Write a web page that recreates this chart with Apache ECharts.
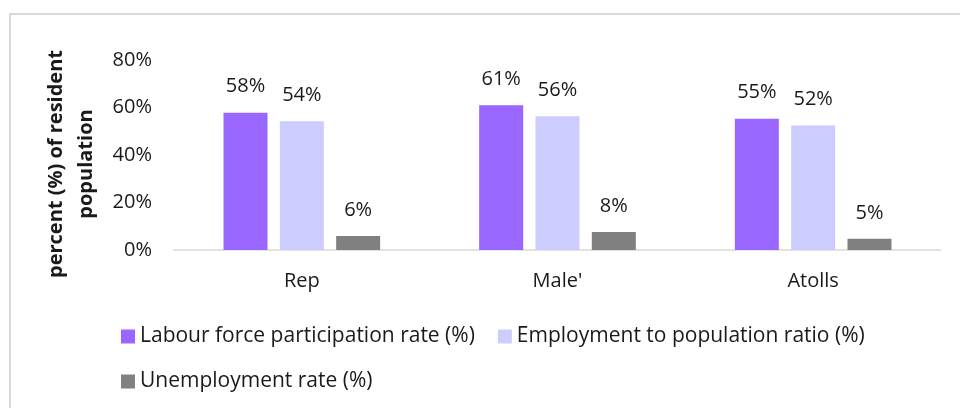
<!DOCTYPE html>
<html>
<head>
<meta charset="utf-8">
<script src="https://cdn.jsdelivr.net/npm/echarts@6/dist/echarts.min.js"></script>
<style>
  html, body { margin: 0; padding: 0; background: #fff; }
  #chart { width: 960px; height: 408px; }
</style>
</head>
<body>
<div id="chart"></div>
<script>
  var categories = ["Rep", "Male'", "Atolls"];
  var labourForce = [57.8, 61.0, 55.3];
  var employmentRatio = [54.2, 56.3, 52.4];
  var unemployment = [5.9, 7.6, 4.7];
  var seriesNames = [
    "Labour force participation rate (%)",
    "Employment to population ratio (%)",
    "Unemployment rate (%)"
  ];
  var yTicks = [0, 20, 40, 60, 80];

  var font = "'Open Sans', sans-serif";
  var textColor = "#1a1a1a";

  var chart = echarts.init(document.getElementById("chart"));

  function barSeries(name, data, color) {
    return {
      name: name,
      type: "bar",
      data: data,
      barWidth: 44,
      barGap: "28%",
      itemStyle: { color: color },
      label: {
        show: true,
        position: "top",
        distance: 16,
        color: textColor,
        fontFamily: font,
        fontSize: 20,
        formatter: function (p) { return Math.round(p.value) + "%"; }
      }
    };
  }

  var legendText = { color: textColor, fontFamily: font, fontSize: 21 };

  var option = {
    animation: false,
    backgroundColor: "#fff",
    graphic: [{
      type: "rect",
      shape: { x: 10, y: 14, width: 960, height: 400 },
      style: { fill: "none", stroke: "#d9d9d9", lineWidth: 2 }
    }],
    grid: { left: 174, right: 19, top: 60, bottom: 158 },
    legend: [{
      data: [seriesNames[0], seriesNames[1]],
      left: 121, top: 326, padding: 0,
      itemWidth: 14, itemHeight: 14, itemGap: 23,
      icon: "rect",
      textStyle: legendText
    }, {
      data: [seriesNames[2]],
      left: 121, top: 371, padding: 0,
      itemWidth: 14, itemHeight: 14,
      icon: "rect",
      textStyle: legendText
    }],
    xAxis: {
      type: "category",
      data: categories,
      axisTick: { show: false },
      axisLine: { lineStyle: { color: "#d9d9d9", width: 1.5 } },
      axisLabel: { color: textColor, fontFamily: font, fontSize: 20, margin: 21 }
    },
    yAxis: {
      type: "value",
      min: yTicks[0],
      max: yTicks[yTicks.length - 1],
      interval: 20,
      name: "percent (%) of resident\npopulation",
      nameLocation: "middle",
      nameGap: 66,
      nameTextStyle: {
        color: textColor, fontFamily: font, fontSize: 20, fontWeight: "bold",
        lineHeight: 30, padding: [0, 18, 0, 0]
      },
      axisLine: { show: false },
      axisTick: { show: false },
      splitLine: { show: false },
      axisLabel: { color: textColor, fontFamily: font, fontSize: 20, margin: 22, formatter: "{value}%" }
    },
    series: [
      barSeries(seriesNames[0], labourForce, "#9966ff"),
      barSeries(seriesNames[1], employmentRatio, "#ccccff"),
      barSeries(seriesNames[2], unemployment, "#808080")
    ]
  };

  chart.setOption(option);
</script>
</body>
</html>
